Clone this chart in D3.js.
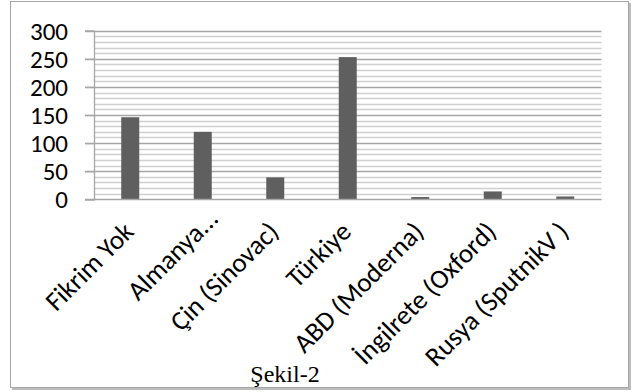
<!DOCTYPE html>
<html><head><meta charset="utf-8">
<script src="https://cdn.jsdelivr.net/npm/d3@7"></script>
<style>
html,body{margin:0;padding:0;background:#fff;}
svg{display:block;}
</style></head>
<body>
<script>
const categories = ["Fikrim Yok","Almanya...","Çin (Sinovac)","Türkiye","ABD (Moderna)","İngilrete (Oxford)","Rusya (SputnikV )"];
const values = [146, 120, 39, 253, 4, 14, 5];
const yTicks = [0, 50, 100, 150, 200, 250, 300];
const caption = "Şekil-2";

(function () {
const W = 632, H = 392;
const FONT = "Carlito, Calibri, 'Open Sans', sans-serif";
const svg = d3.select("body").append("svg").attr("width", W).attr("height", H);

// outer frame with shadow
svg.append("rect").attr("x", 12).attr("y", 3).attr("width", 619).attr("height", 387).attr("fill", "#bdbdbd");
svg.append("rect").attr("x", 10.5).attr("y", 1.5).attr("width", 618).attr("height", 386)
  .attr("fill", "#fff").attr("stroke", "#a6a6a6").attr("stroke-width", 1);

const pl = 94, pr = 601.5, pt = 30.7, pb = 199.3;
const x = d3.scaleBand().domain(categories).range([pl, pr]).paddingInner(0).paddingOuter(0);
const y = d3.scaleLinear().domain([0, 300]).range([pb, pt]);

// minor gridlines
const minor = d3.range(10, 301, 10).filter(v => v % 50 !== 0);
svg.append("g").selectAll("line").data(minor).join("line")
  .attr("x1", pl).attr("x2", pr)
  .attr("y1", d => Math.round(y(d)) + 0.5).attr("y2", d => Math.round(y(d)) + 0.5)
  .attr("stroke", "#cfcfcf").attr("stroke-width", 1.3);
// major gridlines
svg.append("g").selectAll("line").data(yTicks.filter(v => v > 0)).join("line")
  .attr("x1", pl - 9).attr("x2", pr)
  .attr("y1", d => Math.round(y(d)) + 0.5).attr("y2", d => Math.round(y(d)) + 0.5)
  .attr("stroke", "#a6a6a6").attr("stroke-width", 1.3);

// bars
const bw = 18;
svg.append("g").selectAll("rect").data(values).join("rect")
  .attr("x", (d, i) => x(categories[i]) + x.bandwidth() / 2 - bw / 2)
  .attr("width", bw)
  .attr("y", d => y(d))
  .attr("height", d => pb - y(d))
  .attr("fill", "#5f5f5f");

// y axis
const yAxis = d3.axisLeft(y).tickValues(yTicks).tickSize(9).tickPadding(17);
const gy = svg.append("g").attr("transform", `translate(${pl},0)`).call(yAxis);
gy.select(".domain").attr("stroke", "#a6a6a6").attr("stroke-width", 1.3);
gy.selectAll(".tick line").attr("stroke", "#a6a6a6").attr("stroke-width", 1.3);
gy.selectAll("text").attr("font-family", FONT)
  .attr("font-size", 25).attr("fill", "#000").attr("dy", "0.34em");

// x baseline
svg.append("line").attr("x1", pl - 9).attr("x2", pr)
  .attr("y1", Math.round(pb) + 0.5).attr("y2", Math.round(pb) + 0.5)
  .attr("stroke", "#a6a6a6").attr("stroke-width", 1.3);

// x labels (rotated -45°, end-anchored under each category)
const xAxis = d3.axisBottom(x).tickSize(0).tickPadding(0);
const gx = svg.append("g").attr("transform", `translate(0,${pb})`).call(xAxis);
gx.select(".domain").remove();
gx.selectAll("text")
  .attr("font-family", FONT)
  .attr("font-size", 27).attr("fill", "#000")
  .attr("text-anchor", "end")
  .attr("dy", 0)
  .attr("transform", (d, i) => i === 1 ? "translate(17,21) rotate(-45)" : "translate(5,34) rotate(-45)");

// caption
svg.append("text").attr("x", 285).attr("y", 382).attr("text-anchor", "middle")
  .attr("font-family", "'Liberation Serif', 'Times New Roman', serif")
  .attr("font-size", 24).attr("fill", "#000").text(caption);
})();
</script>
</body></html>
